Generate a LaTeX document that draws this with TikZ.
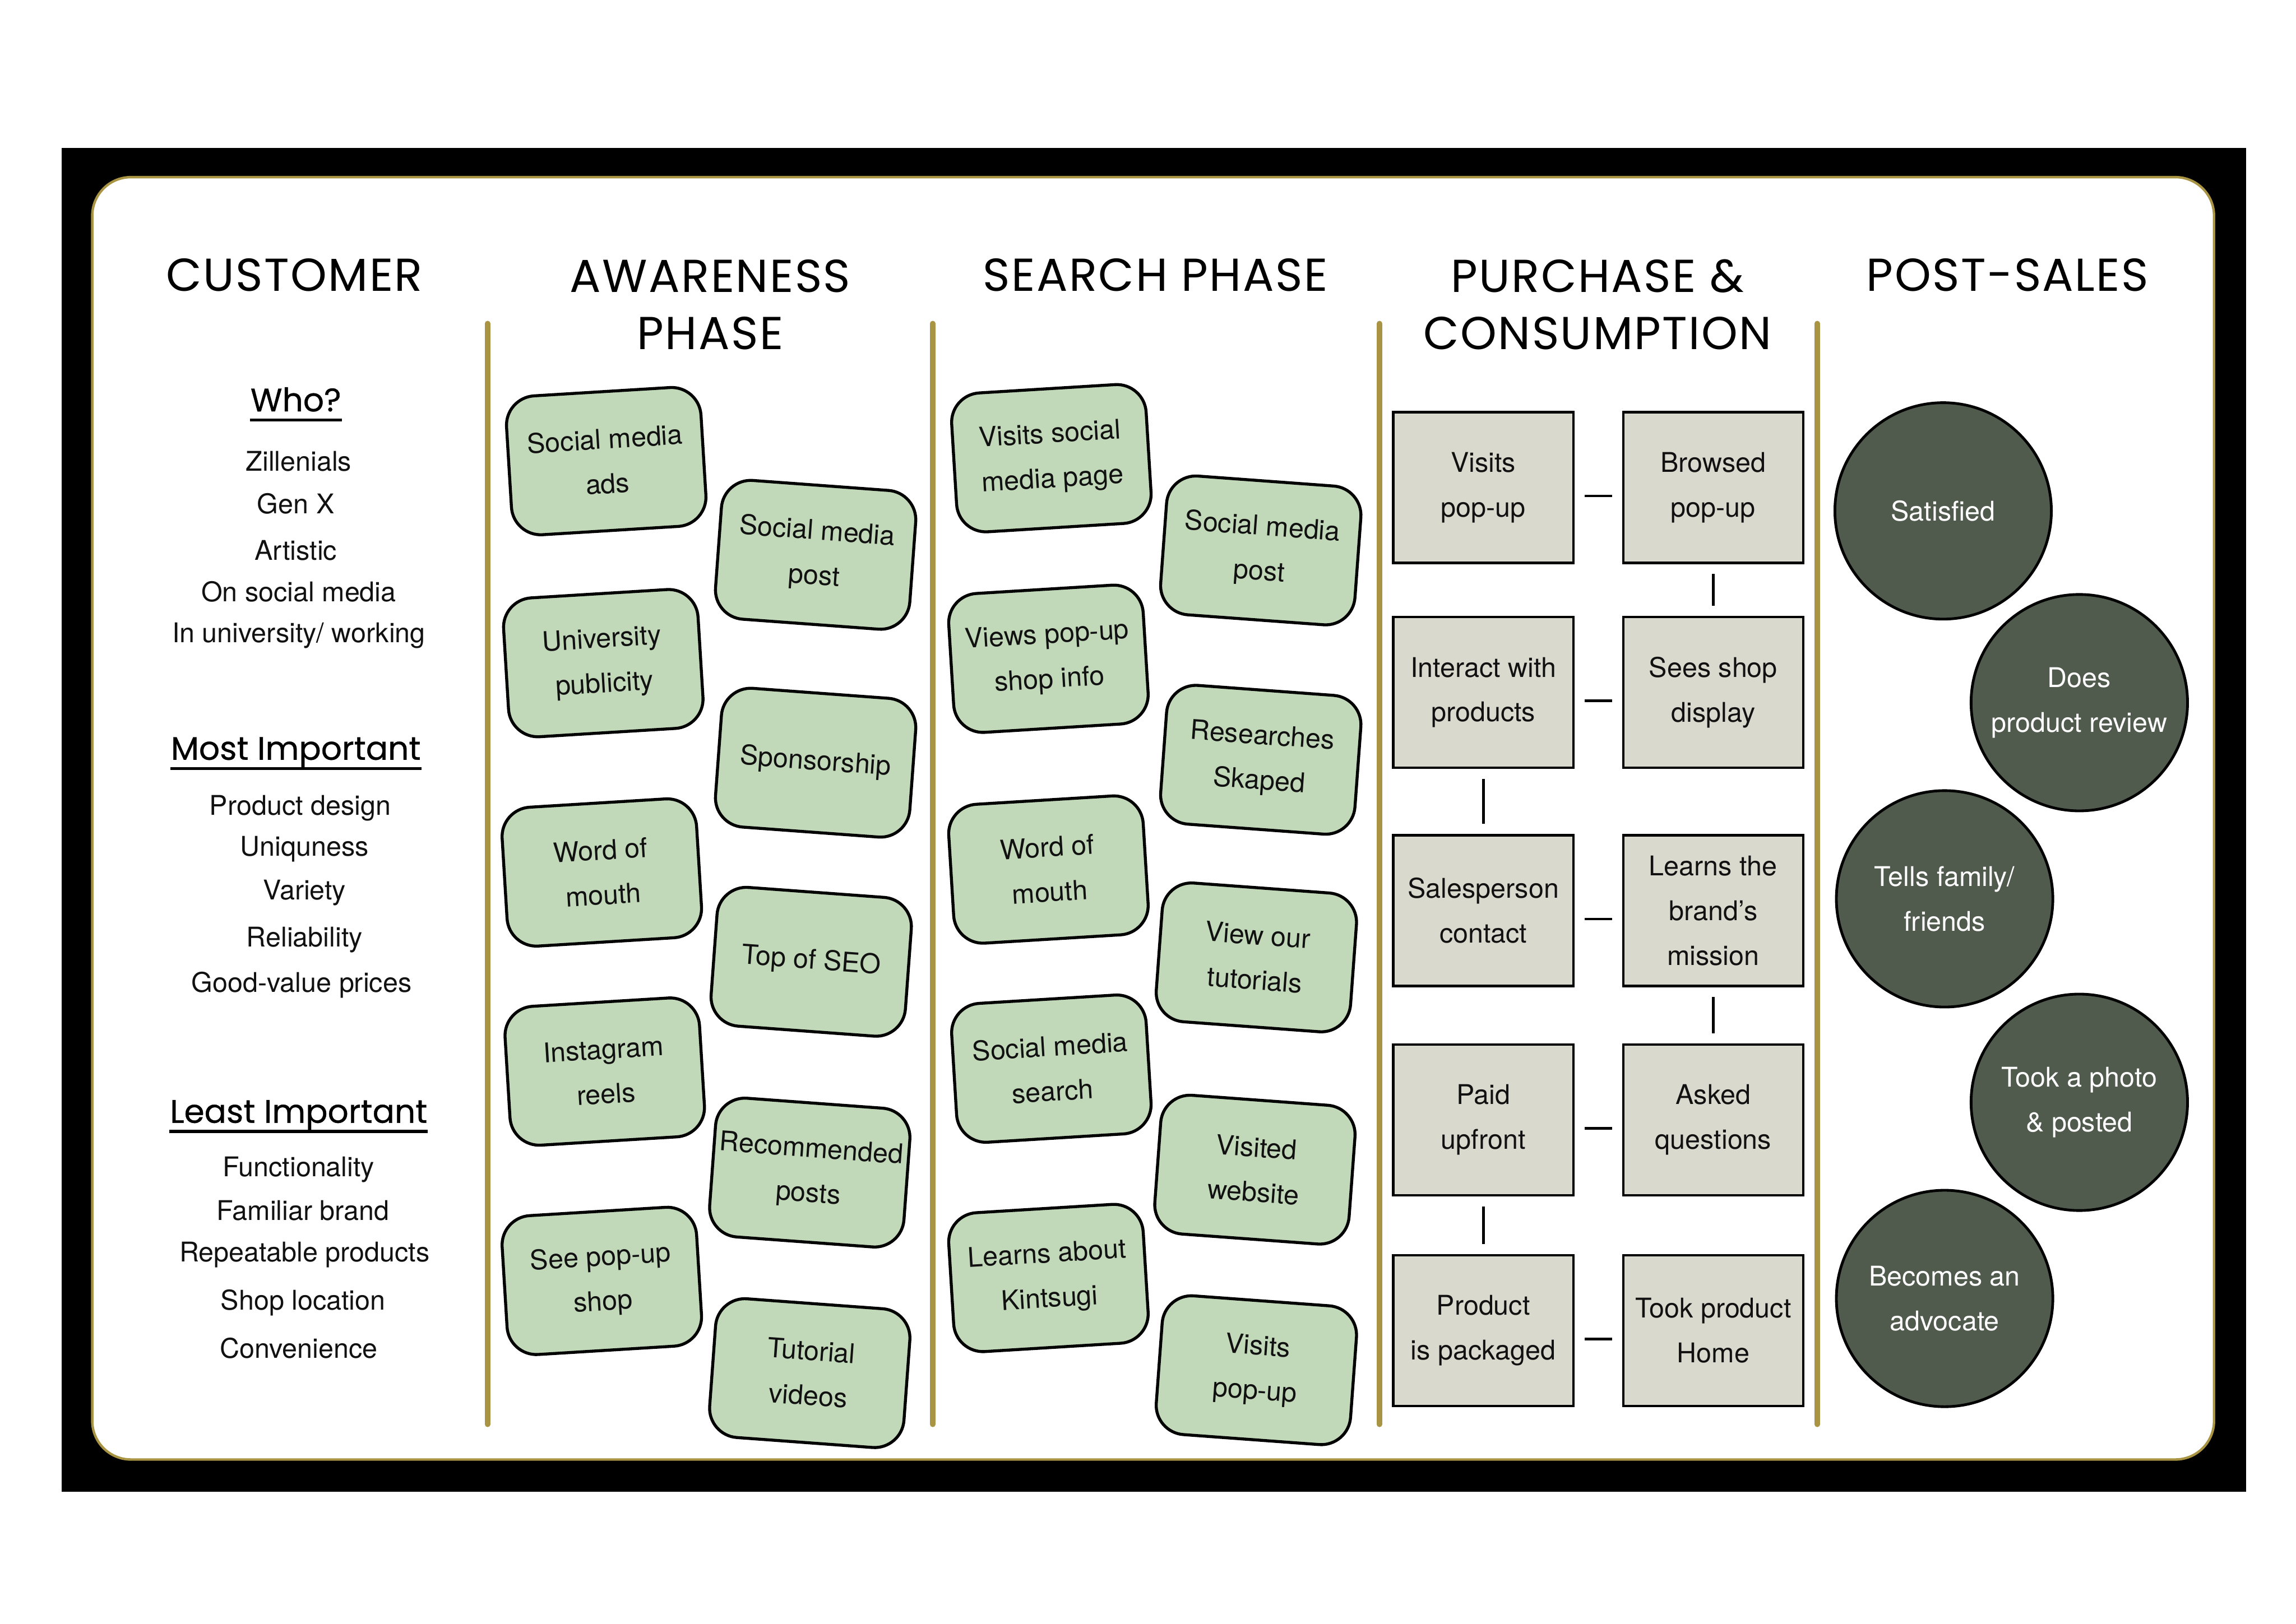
\documentclass[tikz,border=0pt]{standalone}
\usepackage{fontspec}
\setmainfont{TeX Gyre Heros}
\newfontfamily\headfont[LetterSpace=3]{Poppins}
\newfontfamily\subfont[FakeBold=0.6]{Poppins}
\usetikzlibrary{positioning}
\definecolor{Gold}{HTML}{A89442}
\definecolor{NoteGreen}{HTML}{C1D8B9}
\definecolor{StepGrey}{HTML}{D9D9CE}
\definecolor{Moss}{HTML}{505A4D}
\definecolor{Ink}{HTML}{111111}

\begin{document}
\begin{tikzpicture}[
    x=0.189413mm, y=-0.189413mm,
    coltitle/.style={font=\headfont\fontsize{17}{21}\selectfont, text=black, align=center},
    subhead/.style={font=\subfont\fontsize{12}{14}\selectfont, text=black, anchor=base, inner sep=0pt, text depth=0.3em},
    underrule/.style={draw=black, line width=1.1pt},
    trait/.style={font=\fontsize{10}{12}\selectfont, text=Ink},
    note/.style={rectangle, rounded corners=0.38cm, draw=black, fill=NoteGreen, line width=1.1pt, minimum width=2.52cm, minimum height=1.80cm, inner sep=2pt, align=center, font=\fontsize{10}{16.5}\selectfont, text=Ink},
    noteleft/.style={note, rotate=3.5},
    noteright/.style={note, rotate=-4.2},
    stepbox/.style={rectangle, draw=black, fill=StepGrey, line width=0.9pt, minimum width=2.33cm, minimum height=1.95cm, inner sep=2pt, align=center, font=\fontsize{10}{16.5}\selectfont, text=Ink},
    outcome/.style={circle, draw=black, fill=Moss, line width=1pt, minimum size=2.80cm, inner sep=1pt, align=center, font=\fontsize{10}{16.5}\selectfont, text=white},
    link/.style={draw=black, line width=1pt, shorten <=0.13cm, shorten >=0.13cm},
    hlink/.style={link, transform canvas={yshift=-0.11cm}},
    divider/.style={draw=Gold, line width=2pt, line cap=round}
]

\useasboundingbox (0,0) rectangle (1568,1109);
\fill[white] (0,0) rectangle (1568,1109);
\fill[black] (42,101) rectangle (1534,1019);
\draw[draw=Gold, fill=white, line width=0.9pt, rounded corners=0.5cm] (63,121) rectangle (1512,997);

% column dividers
\draw[divider] (333,221) -- (333,973);
\draw[divider] (637,221) -- (637,973);
\draw[divider] (942,221) -- (942,973);
\draw[divider] (1241,221) -- (1241,973);

% column titles
\node[coltitle] (tcust) at (201,188) {CUSTOMER};
\node[coltitle] (taware) at (485,208) {AWARENESS\\PHASE};
\node[coltitle] (tsearch) at (789,188) {SEARCH PHASE};
\node[coltitle] (tbuy) at (1091,208) {PURCHASE \&\\CONSUMPTION};
\node[coltitle] (tpost) at (1371,188) {POST-SALES};

% customer profile
\node[subhead] (who) at (202,281) {Who?};
\draw[underrule] (who.south west) -- (who.south east);
\node[trait] (zill) at (204,315) {Zillenials};
\node[trait] (genx) at (202,344) {Gen X};
\node[trait] (arty) at (202,376) {Artistic};
\node[trait] (social) at (204,404) {On social media};
\node[trait] (uni) at (204,434) {In university/ working};

\node[subhead] (most) at (202,519) {Most Important};
\draw[underrule] (most.south west) -- (most.south east);
\node[trait] (design) at (205,552) {Product design};
\node[trait] (unique) at (208,580) {Uniquness};
\node[trait] (variety) at (208,610) {Variety};
\node[trait] (reliable) at (208,642) {Reliability};
\node[trait] (value) at (206,673) {Good-value prices};

\node[subhead] (least) at (204,767) {Least Important};
\draw[underrule] (least.south west) -- (least.south east);
\node[trait] (function) at (204,799) {Functionality};
\node[trait] (familiar) at (207,827) {Familiar brand};
\node[trait] (repeat) at (208,857) {Repeatable products};
\node[trait] (location) at (207,890) {Shop location};
\node[trait] (conven) at (204,921) {Convenience};

% awareness phase
\node[noteleft] (aw1) at (414,315) {Social media\\ads};
\node[noteright] (aw2) at (557,379) {Social media\\post};
\node[noteleft] (aw3) at (412,453) {University\\publicity};
\node[noteright] (aw4) at (557,521) {Sponsorship};
\node[noteleft] (aw5) at (411,596) {Word of\\mouth};
\node[noteright] (aw6) at (554,657) {Top of SEO};
\node[noteleft] (aw7) at (413,732) {Instagram\\reels};
\node[noteright] (aw8) at (553,801) {Recommended\\posts};
\node[noteleft] (aw9) at (411,875) {See pop-up\\shop};
\node[noteright] (aw10) at (553,938) {Tutorial\\videos};

% search phase
\node[noteleft] (se1) at (718,313) {Visits social\\media page};
\node[noteright] (se2) at (861,376) {Social media\\post};
\node[noteleft] (se3) at (716,450) {Views pop-up\\shop info};
\node[noteright] (se4) at (861,519) {Researches\\Skaped};
\node[noteleft] (se5) at (716,594) {Word of\\mouth};
\node[noteright] (se6) at (858,654) {View our\\tutorials};
\node[noteleft] (se7) at (718,730) {Social media\\search};
\node[noteright] (se8) at (857,799) {Visited\\website};
\node[noteleft] (se9) at (716,873) {Learns about\\Kintsugi};
\node[noteright] (se10) at (858,936) {Visits\\pop-up};

% purchase & consumption
\node[stepbox] (visit) at (1013,333) {Visits\\pop-up};
\node[stepbox] (browse) at (1170,333) {Browsed\\pop-up};
\node[stepbox] (touch) at (1013,473) {Interact with\\products};
\node[stepbox] (display) at (1170,473) {Sees shop\\display};
\node[stepbox] (staff) at (1013,622) {Salesperson\\contact};
\node[stepbox] (mission) at (1170,622) {Learns the\\brand's\\mission};
\node[stepbox] (paid) at (1013,765) {Paid\\upfront};
\node[stepbox] (ask) at (1170,765) {Asked\\questions};
\node[stepbox] (pack) at (1013,909) {Product\\is packaged};
\node[stepbox] (home) at (1170,909) {Took product\\Home};

\draw[hlink] (visit) -- (browse);
\draw[link] (browse) -- (display);
\draw[hlink] (touch) -- (display);
\draw[link] (touch) -- (staff);
\draw[hlink] (staff) -- (mission);
\draw[link] (mission) -- (ask);
\draw[hlink] (paid) -- (ask);
\draw[link] (paid) -- (pack);
\draw[hlink] (pack) -- (home);

% post-sales
\node[outcome] (happy) at (1327,349) {Satisfied};
\node[outcome] (review) at (1420,480) {Does\\product review};
\node[outcome] (tell) at (1328,614) {Tells family/\\friends};
\node[outcome] (photo) at (1420,753) {Took a photo\\\& posted};
\node[outcome] (advocate) at (1328,887) {Becomes an\\advocate};

\end{tikzpicture}
\end{document}
